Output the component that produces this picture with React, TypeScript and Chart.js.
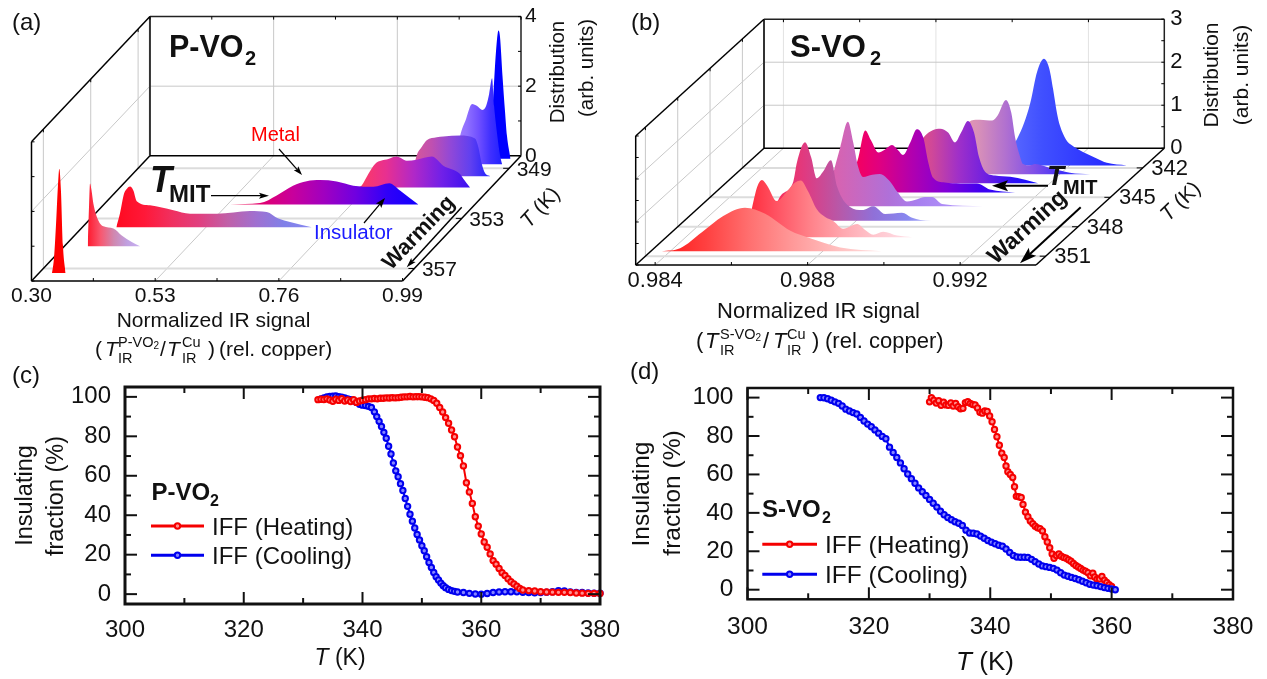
import React, { useEffect, useRef } from "react";
import { Chart, registerables } from "chart.js";

Chart.register(...registerables);

const F = '"Liberation Sans", Arial, sans-serif';
const W = 1267;
const H = 679;

// ---------- panel (a) P-VO2 ----------
const pvoTemps = [357.37, 355.22, 353.71, 351.89, 350.54, 349.63, 348.67, 348.24];
const pvoSignal1 = [0.3242, 0.3279, 0.3316, 0.3353, 0.3378, 0.3409, 0.3446, 0.3497];
const pvoDist1 = [0, 0.43, 1.37, 2.51, 3.0, 2.37, 0.8, 0];
const pvoSignal2 = [0.3433, 0.3458, 0.3476, 0.3504, 0.3538, 0.3631, 0.3724, 0.391, 0.4066, 0.4252, 0.4406];
const pvoDist2 = [0, 1.17, 1.8, 1.6, 1.23, 0.74, 0.57, 0.51, 0.31, 0.12, 0];
const pvoSignal3 = [0.3632, 0.3701, 0.3776, 0.3831, 0.3887, 0.3949, 0.4012, 0.4259, 0.4693, 0.5003, 0.55, 0.6119, 0.643, 0.6646, 0.6863, 0.7267];
const pvoDist3 = [0, 0.4, 0.97, 1.11, 1.17, 1.06, 0.75, 0.63, 0.49, 0.39, 0.39, 0.47, 0.44, 0.25, 0.15, 0];
const pvoSignal4 = [0.5345, 0.5903, 0.6214, 0.6517, 0.6772, 0.7019, 0.733, 0.7639, 0.8011, 0.8308, 0.8507, 0.8675, 0.8848];
const pvoDist4 = [0, 0.04, 0.26, 0.54, 0.67, 0.7, 0.66, 0.54, 0.51, 0.61, 0.4, 0.2, 0];
const pvoSignal5 = [0.7429, 0.7497, 0.762, 0.7745, 0.7992, 0.8148, 0.8334, 0.852, 0.88, 0.9015, 0.9326, 0.9387, 0.9512];
const pvoDist5 = [0, 0.06, 0.39, 0.68, 0.82, 0.89, 0.77, 0.8, 0.89, 0.63, 0.39, 0.25, 0];
const pvoSignal6 = [0.8232, 0.832, 0.8413, 0.8506, 0.8692, 0.8814, 0.9125, 0.9404, 0.9465, 0.9529, 0.959, 0.9683];
const pvoDist6 = [0, 0.6, 0.84, 1.03, 1.12, 1.14, 1.17, 1.08, 0.84, 0.36, 0.09, 0];
const pvoSignal7 = [0.8822, 0.8915, 0.9026, 0.9138, 0.9231, 0.9324, 0.9398, 0.9454, 0.951, 0.9547, 0.9603, 0.9659, 0.9696];
const pvoDist7 = [0, 0.81, 1.3, 1.73, 1.67, 1.56, 1.67, 2.01, 2.47, 1.67, 0.87, 0.24, 0];
const pvoSignal8 = [0.9339, 0.9432, 0.9488, 0.9534, 0.9562, 0.9609, 0.9655, 0.9692, 0.9759];
const pvoDist8 = [0, 1.66, 3.09, 3.69, 3.51, 2.37, 1.37, 0.66, 0];
const pvoSignalTicks = [0.3, 0.53, 0.76, 0.99];
const pvoSignalMinor = [0.415, 0.645, 0.875];
const pvoDistTicks = [0, 2, 4];
const pvoDistMinor = [1, 3];
const pvoTempTicks = [349, 353, 357];

const pvoColors = [
  ["#ff0000", "#ff0000"],
  ["#ff1a2e", "#f85870", "#d088b0", "#c0a0e0", "#c8b0f0"],
  ["#ff0a20", "#ff1838", "#f03060", "#e04080", "#c060a8", "#a070d0", "#8080e8", "#8888f0"],
  ["#f00040", "#e00070", "#c8009c", "#a000c0", "#7000e0", "#3000f8", "#1000ff"],
  ["#ff3a60", "#e83090", "#b028c8", "#7020e8", "#3a10f0"],
  ["#d85898", "#c050b0", "#9048d8", "#6040f0", "#2020ff"],
  ["#a880ff", "#9070ff", "#7050ff", "#4030ff", "#2020ff"],
  ["#0000ff", "#0000ff"],
];

// ---------- panel (b) S-VO2 ----------
const svoTemps = [350.5, 349.07, 347.4, 345.9, 344.5, 343.57, 342.66, 341.75];
const svoSignal1 = [0.98378, 0.98426, 0.98483, 0.98539, 0.98596, 0.98649, 0.98714, 0.98767, 0.98846, 0.98955];
const svoDist1 = [0, 0.07, 0.44, 0.82, 1.01, 0.87, 0.48, 0.3, 0.09, 0];
const svoSignal2 = [0.98543, 0.98564, 0.98574, 0.98588, 0.986, 0.98614, 0.98639, 0.98666, 0.98687, 0.98702, 0.98721, 0.98744, 0.98766, 0.98787, 0.98813, 0.9885, 0.98871, 0.98892, 0.98918, 0.98955, 0.98994];
const svoDist2 = [0, 0.27, 0.68, 1.18, 1.33, 1.2, 0.84, 1.07, 1.27, 1.32, 1.07, 0.65, 0.47, 0.38, 0.2, 0.31, 0.17, 0.06, 0.13, 0.04, 0];
const svoSignal3 = [0.98574, 0.98601, 0.98635, 0.98645, 0.98666, 0.98682, 0.98697, 0.98713, 0.98734, 0.9875, 0.98784, 0.98816, 0.98845, 0.98876, 0.9892, 0.98947, 0.98968, 0.99026];
const svoDist3 = [0, 0.57, 0.91, 1.37, 1.83, 1.48, 0.99, 1.14, 1.41, 0.8, 0.32, 0.25, 0.34, 0.16, 0.19, 0.07, 0.02, 0];
const svoSignal4 = [0.98676, 0.98695, 0.98716, 0.98736, 0.9875, 0.98763, 0.98776, 0.988, 0.9882, 0.98847, 0.98865, 0.98891, 0.98918, 0.98938, 0.98957, 0.98983, 0.99091];
const svoDist4 = [0, 0.68, 1.37, 1.96, 1.48, 0.91, 0.68, 0.73, 0.75, 0.57, 0.34, 0.11, 0.16, 0.21, 0.21, 0.05, 0];
const svoSignal5 = [0.98689, 0.98707, 0.98723, 0.98742, 0.98757, 0.98776, 0.98794, 0.98812, 0.98828, 0.98841, 0.9886, 0.98877, 0.98894, 0.98907, 0.9892, 0.98951, 0.98991, 0.99035, 0.99069, 0.99135];
const svoDist5 = [0, 0.37, 0.78, 1.44, 1.21, 0.93, 1.0, 1.1, 0.98, 0.87, 1.16, 1.47, 1.28, 0.71, 0.34, 0.23, 0.21, 0.21, 0.07, 0];
const svoSignal6 = [0.9882, 0.98846, 0.98873, 0.98912, 0.98933, 0.98951, 0.98967, 0.98985, 0.99001, 0.99014, 0.9903, 0.99056, 0.99096, 0.99135, 0.99169];
const svoDist6 = [0, 0.72, 1.11, 1.27, 1.18, 0.95, 1.18, 1.45, 1.18, 0.61, 0.27, 0.18, 0.15, 0.08, 0];
const svoSignal7 = [0.98913, 0.98939, 0.98955, 0.98968, 0.98991, 0.99023, 0.99038, 0.99059, 0.99073, 0.99083, 0.99094, 0.99104, 0.99122, 0.99135, 0.99175, 0.99227, 0.9928];
const svoDist7 = [0, 0.52, 1.09, 1.25, 1.27, 1.25, 1.38, 1.73, 1.43, 0.86, 0.47, 0.24, 0.21, 0.24, 0.15, 0.04, 0];
const svoSignal8 = [0.99018, 0.99062, 0.99081, 0.99097, 0.99115, 0.99133, 0.99147, 0.99157, 0.99167, 0.99175, 0.99191, 0.99206, 0.99228, 0.99245, 0.9927, 0.99298, 0.9935];
const svoDist8 = [0, 0.61, 0.99, 1.45, 2.18, 2.48, 2.25, 1.77, 1.22, 0.92, 0.6, 0.47, 0.35, 0.27, 0.17, 0.06, 0];
const svoSignalTicks = [0.984, 0.988, 0.992];
const svoSignalMinor = [0.986, 0.99];
const svoDistTicks = [0, 1, 2, 3];
const svoDistMinor = [0.5, 1.5, 2.5];
const svoTempTicks = [342, 345, 348, 351];

const svoColors = [
  ["#ff1818", "#ff4040", "#ff7070", "#ff9a9a", "#ffc0c0", "#ffe0e0"],
  ["#ff2030", "#ff5060", "#ff8088", "#ffa8b0", "#ffc8d0", "#ffe0e8"],
  ["#ff2a50", "#e03a80", "#b858a8", "#9070d8", "#8888f0", "#d0d0ff"],
  ["#e060a8", "#c868c0", "#b070d8", "#a880f0", "#b090f8", "#d0c0ff"],
  ["#ff0050", "#e00080", "#b000b0", "#8000d8", "#4000f0", "#2010ff"],
  ["#f05078", "#d04898", "#a030c8", "#7020e0", "#3010f8", "#1010ff"],
  ["#f0a0a8", "#d890b8", "#b070d0", "#8050e8", "#4030f8", "#4040ff"],
  ["#6070ff", "#4050ff", "#3038ff", "#2020ff"],
];

// ---------- panel (c) ----------
const cHeatT = [332.5, 333, 333.5, 334, 334.5, 335, 335.5, 336, 336.5, 337, 337.5, 338, 338.5, 339, 339.5, 340, 340.5, 341, 341.5, 342, 342.5, 343, 343.5, 344, 344.5, 345, 345.5, 346, 346.5, 347, 347.5, 348, 348.5, 349, 349.5, 350, 350.5, 351, 351.5, 352, 352.5, 353, 353.5, 354, 354.5, 355, 355.5, 356, 356.5, 357, 357.5, 358, 358.5, 359, 359.5, 360, 360.5, 361, 361.5, 362, 362.5, 363, 363.5, 364, 364.5, 365, 365.5, 366, 366.5, 367, 368, 369, 370, 371, 372, 373, 374, 375, 376, 377, 378, 379, 380, 380.4];
const cHeatY = [98.6, 98.8, 98.7, 99.0, 98.4, 97.8, 98.8, 98.2, 99.1, 97.9, 98.4, 97.6, 98.6, 97.2, 97.9, 98.3, 98.6, 99.0, 99.0, 99.2, 99.0, 99.3, 99.3, 99.5, 99.4, 99.6, 99.5, 99.6, 99.8, 100, 100, 100.2, 100, 100.1, 100.1, 100, 99.8, 99.6, 99, 98.2, 96.8, 94.6, 92.3, 89.5, 86.6, 83.2, 79.8, 74.6, 70.2, 65.0, 56.5, 51.8, 46.0, 39.2, 34.5, 30.5, 26.4, 23.8, 20.4, 17.0, 15.2, 13.0, 10.9, 9.5, 7.8, 6.3, 5.2, 4.0, 2.9, 2.1, 1.8, 1.6, 1.2, 1.1, 1.0, 0.9, 0.9, 0.8, 0.6, 0.5, 0.4, 0.4, 0.3, 0.3];
const cCoolT = [333, 333.5, 334, 334.5, 335, 335.5, 336, 336.5, 337, 337.5, 338, 338.5, 339, 339.5, 340, 340.5, 341, 341.5, 342, 342.4, 342.8, 343.2, 343.6, 344, 344.4, 344.8, 345.2, 345.6, 346, 346.4, 346.8, 347.2, 347.6, 348, 348.4, 348.8, 349.2, 349.6, 350, 350.4, 350.8, 351.2, 351.6, 352, 352.4, 352.8, 353.2, 353.6, 354, 354.5, 355, 355.5, 356, 357, 358, 359, 360, 361, 362, 363, 364, 365, 366, 367, 368, 369, 370, 371, 372, 373, 374, 375, 376, 377, 378, 379, 380];
const cCoolY = [99, 99.5, 100, 100.2, 100.3, 100.4, 100.1, 99.8, 99.5, 99, 98.6, 98, 97.2, 96.2, 95.8, 95.6, 95.2, 94.6, 92.4, 90, 87.6, 85, 82, 79, 75, 71, 66.5, 62.5, 59.5, 56, 52.5, 48.5, 44.5, 40.5, 37, 33.5, 30.2, 27.5, 24.5, 22, 19, 16, 13.5, 11, 8.8, 7.2, 5.6, 4.3, 3.3, 2.4, 1.8, 1.4, 1.1, 0.8, 0.4, 0.1, 0, 0.3, 0.8, 1.1, 1.2, 1.2, 1.2, 0.9, 0.8, 0.7, 0.8, 1.0, 1.2, 1.8, 1.6, 1.1, 0.9, 0.8, 0.6, 0.5, 0.5];

// ---------- panel (d) ----------
const dHeatT = [330.0, 330.3, 330.7, 331.1, 331.5, 331.9, 332.3, 332.7, 333.1, 333.5, 333.9, 334.3, 334.7, 335.1, 335.5, 335.9, 336.3, 336.7, 337.1, 337.5, 337.9, 338.3, 338.7, 339.1, 339.5, 339.9, 340.3, 340.7, 341.1, 341.5, 341.9, 342.3, 342.6, 342.9, 343.3, 343.7, 344.0, 344.3, 344.7, 345.1, 345.4, 345.8, 346.2, 346.6, 347, 347.4, 347.8, 348.2, 348.6, 349, 349.4, 349.8, 350.2, 350.5, 350.9, 351.3, 351.7, 352.1, 352.5, 352.9, 353.3, 353.7, 354.1, 354.5, 354.9, 355.3, 355.7, 356.1, 356.5, 356.9, 357.2, 357.6, 358, 358.4, 358.8, 359.2, 359.6, 360];
const dHeatY = [97.8, 100, 98.6, 97.2, 98.4, 96.0, 97.6, 96.2, 96, 97.2, 95.6, 97, 95.2, 94.2, 94.4, 97.4, 97.9, 97, 96.4, 96.2, 94.6, 92.4, 91.9, 93, 92.8, 90.4, 87.4, 83.4, 79.6, 75.2, 71, 68.8, 64.4, 61.4, 60, 58.4, 53.6, 48.6, 48.4, 48.0, 44.4, 40.4, 38, 35.8, 34.4, 33, 32.2, 31.8, 30.6, 27.6, 24.8, 21.8, 18.6, 16.4, 17.8, 18.6, 17.4, 16.8, 16.4, 15.6, 14.8, 13.6, 12.6, 11.8, 11, 10.2, 9.6, 8.8, 7.2, 8.6, 6.6, 5.4, 5.6, 6.9, 5, 3.8, 2.6, 1.7];
const dCoolT = [312.0, 312.6, 313.2, 313.8, 314.4, 315.0, 315.6, 316.2, 316.8, 317.4, 318, 318.6, 319.2, 319.8, 320.4, 321, 321.6, 322.2, 322.8, 323.4, 324, 324.6, 325.2, 325.8, 326.4, 327, 327.6, 328.2, 328.8, 329.4, 330, 330.6, 331.2, 331.8, 332.4, 333, 333.6, 334.2, 334.8, 335.4, 336, 336.6, 337.2, 337.8, 338.4, 339, 339.6, 340.2, 340.8, 341.4, 342, 342.6, 343.2, 343.8, 344.4, 345, 345.6, 346.2, 346.8, 347.4, 348, 348.6, 349.2, 349.8, 350.4, 351, 351.6, 352.2, 352.8, 353.4, 354, 354.6, 355.2, 355.8, 356.4, 357, 357.6, 358.2, 358.8, 359.4, 360, 360.6];
const dCoolY = [100, 99.9, 99.4, 98.6, 97.8, 97, 95.6, 94, 93, 92.2, 91.5, 89.7, 87.8, 86.2, 84.8, 83.2, 81.5, 79.8, 78.6, 74.2, 71.4, 68.8, 66, 63, 60.2, 57.8, 55.4, 53, 51, 49, 47, 45, 43, 40.8, 39, 37.6, 36.4, 35.4, 34.6, 33.4, 31, 29.5, 29.4, 29, 27.9, 26.8, 25.6, 24.7, 23.9, 23.1, 22.6, 21.2, 19.4, 17.8, 17, 16.9, 16.9, 16.8, 15.8, 14.6, 13.4, 12.4, 12, 11.6, 11.1, 10.2, 8.8, 7.6, 7, 6.4, 5.8, 5.2, 4.4, 3.6, 2.8, 2.4, 2.1, 1.6, 1.1, 0.7, 0.4, 0];

const lowerXTicks = [300, 320, 340, 360, 380];
const lowerXMinor = [310, 330, 350, 370];
const lowerYTicks = [0, 20, 40, 60, 80, 100];
const lowerYMinor = [10, 30, 50, 70, 90];

// ---------- helpers ----------
type Seg = { t: string; font: string; dy?: number; dx?: number };

function text(ctx: any, s: string, x: number, y: number, font: string, o: any = {}) {
  ctx.save();
  ctx.font = font;
  ctx.fillStyle = o.color || "#111";
  ctx.textAlign = o.align || "left";
  ctx.textBaseline = o.baseline || "alphabetic";
  ctx.translate(x, y);
  if (o.rot) ctx.rotate((o.rot * Math.PI) / 180);
  ctx.fillText(s, 0, 0);
  ctx.restore();
}

function rich(ctx: any, segs: Seg[], x: number, y: number, rot = 0, color = "#111") {
  ctx.save();
  ctx.translate(x, y);
  ctx.rotate((rot * Math.PI) / 180);
  ctx.fillStyle = color;
  ctx.textBaseline = "alphabetic";
  let total = 0;
  segs.forEach((g) => {
    ctx.font = g.font;
    total += ctx.measureText(g.t).width + (g.dx || 0);
  });
  let cx = -total / 2;
  segs.forEach((g) => {
    ctx.font = g.font;
    ctx.fillText(g.t, cx, g.dy || 0);
    cx += ctx.measureText(g.t).width + (g.dx || 0);
  });
  ctx.restore();
}

function line(ctx: any, x1: number, y1: number, x2: number, y2: number, color = "#000", lw = 1) {
  ctx.save();
  ctx.strokeStyle = color;
  ctx.lineWidth = lw;
  ctx.beginPath();
  ctx.moveTo(x1, y1);
  ctx.lineTo(x2, y2);
  ctx.stroke();
  ctx.restore();
}

function arrow(ctx: any, x1: number, y1: number, x2: number, y2: number, lw: number, len: number, wid: number) {
  const a = Math.atan2(y2 - y1, x2 - x1);
  const bx = x2 - Math.cos(a) * len * 0.8;
  const by = y2 - Math.sin(a) * len * 0.8;
  line(ctx, x1, y1, bx, by, "#000", lw);
  ctx.save();
  ctx.fillStyle = "#000";
  ctx.translate(x2, y2);
  ctx.rotate(a);
  ctx.beginPath();
  ctx.moveTo(0, 0);
  ctx.lineTo(-len, wid / 2);
  ctx.lineTo(-len * 0.8, 0);
  ctx.lineTo(-len, -wid / 2);
  ctx.closePath();
  ctx.fill();
  ctx.restore();
}

function fixedTicks(values: number[]) {
  return (axis: any) => {
    axis.ticks = values.map((value) => ({ value }));
  };
}

// ---------- waterfall ----------
type Waterfall = {
  sMin: number;
  sMax: number;
  zMax: number;
  tFront: number;
  tSpan: number;
  shiftX: number;
  shiftY: number;
  sTicks: number[];
  sGrid: number[];
  sMinor: number[];
  zTicks: number[];
  zMinor: number[];
  tTicks: number[];
  decimals: number;
  padding: any;
  labelPad: number;
  rightPad: number;
  tickSize: number;
  backGridColor: string;
  tempDx: number;
  tempDy: number;
  annotate: (ctx: any) => void;
};

function waterfallConfig(w: Waterfall, temps: number[], signals: number[][], dists: number[][], colors: string[][]) {
  const depth = (T: number) => (w.tFront - T) / w.tSpan;
  const datasets = temps.map((T, i) => {
    const d = depth(T);
    const base = -(1 - d) * w.shiftY;
    const data = signals[i].map((s, k) => ({ x: s + d * w.shiftX, y: dists[i][k] + base }));
    return {
      data,
      pointRadius: 0,
      borderWidth: 0,
      borderColor: "rgba(0,0,0,0)",
      cubicInterpolationMode: "monotone",
      fill: { value: base },
      backgroundColor: (c: any) => {
        const chart = c.chart;
        const sx = chart.scales.x;
        if (!chart.chartArea || !sx) return colors[i][0];
        const g = chart.ctx.createLinearGradient(sx.getPixelForValue(data[0].x), 0, sx.getPixelForValue(data[data.length - 1].x), 0);
        colors[i].forEach((col, k) => g.addColorStop(k / (colors[i].length - 1), col));
        return g;
      },
    };
  });

  const box = {
    id: "box",
    beforeDatasetsDraw(chart: any) {
      const ctx = chart.ctx;
      const P = (s: number, d: number, z: number): [number, number] => [
        chart.scales.x.getPixelForValue(s + d * w.shiftX),
        chart.scales.y.getPixelForValue(z - (1 - d) * w.shiftY),
      ];
      const seg = (a: [number, number], b: [number, number], col: string, lw = 1) => line(ctx, a[0], a[1], b[0], b[1], col, lw);
      const gray = "#c8c8c8";
      w.sGrid.forEach((s) => {
        seg(P(s, 1, 0), P(s, 1, w.zMax), w.backGridColor);
        seg(P(s, 0, 0), P(s, 1, 0), gray);
      });
      w.zTicks.filter((z) => z > 0 && z < w.zMax).forEach((z) => {
        seg(P(w.sMin, 1, z), P(w.sMax, 1, z), gray);
        seg(P(w.sMin, 0, z), P(w.sMin, 1, z), gray);
      });
      w.tTicks.forEach((T) => {
        const d = depth(T);
        seg(P(w.sMin, d, 0), P(w.sMin, d, w.zMax), gray);
        seg(P(w.sMin, d, 0), P(w.sMax, d, 0), "#dcdcdc", 2);
      });
      // frame
      seg(P(w.sMin, 1, 0), P(w.sMin, 1, w.zMax), "#333", 2);
      seg(P(w.sMin, 1, w.zMax), P(w.sMax, 1, w.zMax), "#222", 1.5);
      seg(P(w.sMax, 1, w.zMax), P(w.sMax, 1, 0), "#222", 1.5);
      seg(P(w.sMin, 1, 0), P(w.sMax, 1, 0), "#000", 1.5);
      seg(P(w.sMin, 1, w.zMax), P(w.sMin, 0, w.zMax), "#000", 1.5);
      seg(P(w.sMin, 0, w.zMax), P(w.sMin, 0, 0), "#000", 1.5);
      seg(P(w.sMin, 0, 0), P(w.sMax, 0, 0), "#000", 1.5);
      seg(P(w.sMin, 0, 0), P(w.sMin, 1, 0), "#000", 1.5);
      seg(P(w.sMax, 0, 0), P(w.sMax, 1, 0), "#000", 1.5);
      // small ticks
      [...w.sTicks, ...w.sMinor].forEach((s) => {
        const a = P(s, 0, 0);
        line(ctx, a[0], a[1], a[0], a[1] - 3, "#000", 1);
        const b = P(s, 1, w.zMax);
        line(ctx, b[0], b[1], b[0], b[1] + 3, "#000", 1);
      });
      [...w.zTicks, ...w.zMinor].forEach((z) => {
        const a = P(w.sMax, 1, z);
        line(ctx, a[0], a[1], a[0] - 3, a[1], "#000", 1);
        const b = P(w.sMin, 0, z);
        line(ctx, b[0], b[1], b[0] + 3, b[1], "#000", 1);
      });
      w.tTicks.forEach((T) => {
        const d = depth(T);
        const a = P(w.sMin, d, w.zMax);
        line(ctx, a[0], a[1], a[0], a[1] + 3, "#000", 1);
        const b = P(w.sMax, d, 0);
        line(ctx, b[0], b[1], b[0] - 6, b[1], "#000", 1);
      });
    },
    afterDraw(chart: any) {
      const ctx = chart.ctx;
      w.tTicks.forEach((T) => {
        const d = depth(T);
        const px = chart.scales.x.getPixelForValue(w.sMax + d * w.shiftX);
        const py = chart.scales.y.getPixelForValue(-(1 - d) * w.shiftY);
        text(ctx, String(T), px + w.tempDx, py + w.tempDy, `${w.tickSize}px ${F}`, { align: "center", baseline: "middle" });
      });
      w.annotate(ctx);
    },
  };

  return {
    type: "line",
    data: { datasets },
    plugins: [box],
    options: {
      animation: false,
      responsive: false,
      events: [],
      layout: { padding: w.padding },
      plugins: { legend: { display: false }, tooltip: { enabled: false }, title: { display: false } },
      scales: {
        x: {
          type: "linear",
          min: w.sMin,
          max: w.sMax + w.shiftX,
          afterBuildTicks: fixedTicks(w.sTicks),
          afterFit: (s: any) => {
            s.height = 30;
          },
          grid: { display: false, drawTicks: false },
          border: { display: false },
          ticks: { autoSkip: false, maxRotation: 0, color: "#111", padding: w.labelPad, font: { family: F, size: w.tickSize }, callback: (v: any) => Number(v).toFixed(w.decimals) },
        },
        y: {
          type: "linear",
          position: "right",
          min: -w.shiftY,
          max: w.zMax,
          afterBuildTicks: fixedTicks(w.zTicks),
          afterFit: (s: any) => {
            s.width = 30;
          },
          grid: { display: false, drawTicks: false },
          border: { display: false },
          ticks: { autoSkip: false, color: "#111", padding: w.rightPad, font: { family: F, size: w.tickSize }, callback: (v: any) => String(v) },
        },
      },
    },
  };
}

function irRatio(ctx: any, base: number, xs: number[], sup: string, size: number) {
  const main = `${size}px ${F}`;
  const it = `italic ${size}px ${F}`;
  const small = `14.5px ${F}`;
  text(ctx, "(", xs[0], base, main);
  text(ctx, "T", xs[1], base, it);
  text(ctx, sup, xs[2], base - 9.5, small);
  ctx.save();
  ctx.font = small;
  const sw = ctx.measureText(sup).width;
  ctx.restore();
  text(ctx, "2", xs[2] + sw, base - 7, `10px ${F}`);
  text(ctx, "IR", xs[2], base + 7, small);
  text(ctx, "/", xs[3], base, main);
  text(ctx, "T", xs[4], base, it);
  text(ctx, "Cu", xs[5], base - 9.5, small);
  text(ctx, "IR", xs[5], base + 7, small);
  text(ctx, ")", xs[6], base, main);
  text(ctx, "(rel. copper)", xs[7], base, main);
}

const panelA: Waterfall = {
  sMin: 0.3,
  sMax: 0.99,
  zMax: 4,
  tFront: 358,
  tSpan: 10,
  shiftX: 0.22026,
  shiftY: 3.6,
  sTicks: pvoSignalTicks,
  sGrid: pvoSignalTicks.filter((s) => s > 0.3 && s < 0.99),
  sMinor: pvoSignalMinor,
  zTicks: pvoDistTicks,
  zMinor: pvoDistMinor,
  tTicks: pvoTempTicks,
  decimals: 2,
  padding: { left: 31.5, right: W - 521 - 30, top: 15, bottom: H - 281 - 30 },
  labelPad: 3,
  rightPad: 4,
  tickSize: 21,
  backGridColor: "#c8c8c8",
  tempDx: 25,
  tempDy: 2,
  annotate(ctx) {
    text(ctx, "(a)", 12, 30, `24px ${F}`);
    text(ctx, "P-VO", 169, 57, `bold 30.5px ${F}`);
    text(ctx, "2", 245, 65, `bold 20px ${F}`);
    text(ctx, "Metal", 251, 141, `20px ${F}`, { color: "#ff0000" });
    arrow(ctx, 279, 149, 302, 175, 1.2, 9, 6);
    text(ctx, "T", 150, 192, `italic bold 36px ${F}`);
    text(ctx, "MIT", 169, 202, `bold 24px ${F}`);
    arrow(ctx, 211, 195.7, 269, 195.7, 1.2, 10, 6);
    text(ctx, "Insulator", 314, 239, `20.5px ${F}`, { color: "#1a1aff" });
    arrow(ctx, 364, 223, 385, 198, 1.2, 10, 7);
    text(ctx, "Warming", 419, 233, `bold 22px ${F}`, { align: "center", baseline: "middle", rot: -46 });
    arrow(ctx, 461.7, 207.3, 406.7, 267.3, 1.5, 10, 6);
    rich(ctx, [{ t: "T", font: `italic 21px ${F}` }, { t: " (K)", font: `21px ${F}` }], 545, 212, -47);
    text(ctx, "Distribution", 558, 72, `20.5px ${F}`, { align: "center", baseline: "middle", rot: -90 });
    text(ctx, "(arb. units)", 587, 68, `20.5px ${F}`, { align: "center", baseline: "middle", rot: -90 });
    text(ctx, "Normalized IR signal", 213.5, 327, `21px ${F}`, { align: "center" });
    irRatio(ctx, 356, [95, 105, 118, 160, 167, 182, 208, 219], "P-VO", 21);
  },
};

const panelB: Waterfall = {
  sMin: 0.98349,
  sMax: 0.99399,
  zMax: 3,
  tFront: 351.9,
  tSpan: 11.905,
  shiftX: 0.003365,
  shiftY: 2.715,
  sTicks: svoSignalTicks,
  sGrid: svoSignalTicks,
  sMinor: svoSignalMinor,
  zTicks: svoDistTicks,
  zMinor: svoDistMinor,
  tTicks: svoTempTicks,
  decimals: 3,
  padding: { left: 635.7, right: W - 1164.3 - 30, top: 14.5, bottom: H - 265 - 30 },
  labelPad: 3,
  rightPad: 6,
  tickSize: 22,
  backGridColor: "#e2e2e2",
  tempDx: 27,
  tempDy: 1,
  annotate(ctx) {
    text(ctx, "(b)", 631, 30, `24px ${F}`);
    text(ctx, "S-VO", 790, 57, `bold 31px ${F}`);
    text(ctx, "2", 870, 65, `bold 20px ${F}`);
    text(ctx, "T", 1047, 185, `italic bold 28px ${F}`);
    text(ctx, "MIT", 1063, 194, `bold 20px ${F}`);
    arrow(ctx, 1048, 185.7, 992, 185.7, 2, 16, 11);
    text(ctx, "Warming", 1027.5, 227.5, `bold 23px ${F}`, { align: "center", baseline: "middle", rot: -42.5 });
    arrow(ctx, 1080.7, 207.3, 1020, 263.3, 2, 17, 11);
    rich(ctx, [{ t: "T", font: `italic 21px ${F}` }, { t: " (K)", font: `21px ${F}` }], 1185, 206, -44);
    text(ctx, "Distribution", 1212, 75, `21px ${F}`, { align: "center", baseline: "middle", rot: -90 });
    text(ctx, "(arb. units)", 1242, 75, `21px ${F}`, { align: "center", baseline: "middle", rot: -90 });
    text(ctx, "Normalized IR signal", 818.5, 318, `22px ${F}`, { align: "center" });
    irRatio(ctx, 348, [696, 705, 720, 763, 773, 787, 812, 825], "S-VO", 22);
  },
};

// ---------- lower panels ----------
function zip(xs: number[], ys: number[]) {
  return xs.map((x, i) => ({ x, y: ys[i] }));
}

function curve(data: any[], color: string, fill: string) {
  return {
    data,
    borderColor: color,
    borderWidth: 2,
    tension: 0,
    pointRadius: 2.7,
    pointBorderWidth: 2,
    pointBorderColor: color,
    pointBackgroundColor: fill,
    fill: false,
  };
}

function lowerConfig(datasets: any[], o: any) {
  const frame = {
    id: "frame",
    afterDatasetsDraw(chart: any) {
      const ctx = chart.ctx;
      const { left, right, top, bottom } = chart.chartArea;
      const sx = chart.scales.x;
      const sy = chart.scales.y;
      const tick = (major: boolean) => (major ? 12 : 6);
      const drawX = (v: number, major: boolean) => {
        const p = sx.getPixelForValue(v);
        line(ctx, p, bottom, p, bottom - tick(major), "#111", 2);
        line(ctx, p, top, p, top + tick(major), "#111", 2);
      };
      const drawY = (v: number, major: boolean) => {
        const p = sy.getPixelForValue(v);
        line(ctx, left, p, left + tick(major), p, "#111", 2);
        line(ctx, right, p, right - tick(major), p, "#111", 2);
      };
      lowerXTicks.forEach((v) => drawX(v, true));
      lowerXMinor.forEach((v) => drawX(v, false));
      lowerYTicks.forEach((v) => drawY(v, true));
      lowerYMinor.forEach((v) => drawY(v, false));
      ctx.save();
      ctx.strokeStyle = "#111";
      ctx.lineWidth = o.frameWidth;
      ctx.strokeRect(left, top, right - left, bottom - top);
      ctx.restore();
    },
    afterDraw(chart: any) {
      o.annotate(chart.ctx);
    },
  };
  return {
    type: "line",
    data: { datasets },
    plugins: [frame],
    options: {
      animation: false,
      responsive: false,
      events: [],
      clip: false,
      layout: { padding: o.padding },
      plugins: { legend: { display: false }, tooltip: { enabled: false }, title: { display: false } },
      scales: {
        x: {
          type: "linear",
          min: 300,
          max: 380,
          afterBuildTicks: fixedTicks(lowerXTicks),
          afterFit: (s: any) => {
            s.height = 50;
          },
          grid: { display: false, drawTicks: false },
          border: { display: false },
          ticks: { autoSkip: false, maxRotation: 0, color: "#111", padding: o.xPad, font: { family: F, size: o.tickSize } },
        },
        y: {
          type: "linear",
          min: -5,
          max: 105,
          afterBuildTicks: fixedTicks(lowerYTicks),
          afterFit: (s: any) => {
            s.width = 60;
          },
          grid: { display: false, drawTicks: false },
          border: { display: false },
          ticks: { autoSkip: false, color: "#111", padding: 14, font: { family: F, size: o.tickSize } },
        },
      },
    },
  };
}

function legendRow(ctx: any, x1: number, x2: number, y: number, color: string, fill: string, label: string, tx: number, size: number) {
  line(ctx, x1, y, x2, y, color, 3);
  ctx.save();
  ctx.beginPath();
  ctx.arc((x1 + x2) / 2, y, 2.7, 0, Math.PI * 2);
  ctx.fillStyle = fill;
  ctx.strokeStyle = color;
  ctx.lineWidth = 2;
  ctx.fill();
  ctx.stroke();
  ctx.restore();
  text(ctx, label, tx, y + size * 0.36, `${size}px ${F}`);
}

const RED = "#f50000";
const BLUE = "#0000ee";
const RED_FILL = "#ff9090";
const BLUE_FILL = "#8585ff";

const panelCConfig = () =>
  lowerConfig([curve(zip(cHeatT, cHeatY), RED, RED_FILL), curve(zip(cCoolT, cCoolY), BLUE, BLUE_FILL)], {
    padding: { left: 65, right: W - 600, top: 387, bottom: H - 604 - 50 },
    frameWidth: 3,
    xPad: 12,
    tickSize: 24,
    annotate(ctx: any) {
      text(ctx, "(c)", 12, 383, `24px ${F}`);
      text(ctx, "Insulating", 26, 495.5, `23.5px ${F}`, { align: "center", baseline: "middle", rot: -90 });
      text(ctx, "fraction (%)", 57, 496, `23.5px ${F}`, { align: "center", baseline: "middle", rot: -90 });
      text(ctx, "P-VO", 151.5, 500, `bold 24px ${F}`);
      text(ctx, "2", 210, 506, `bold 16px ${F}`);
      legendRow(ctx, 151, 204, 526, RED, RED_FILL, "IFF (Heating)", 212, 24);
      legendRow(ctx, 151, 204, 555.3, BLUE, BLUE_FILL, "IFF (Cooling)", 212, 24);
      rich(ctx, [{ t: "T", font: `italic 23px ${F}` }, { t: " (K)", font: `23px ${F}` }], 340, 665);
    },
  });

const panelDConfig = () =>
  lowerConfig([curve(zip(dCoolT, dCoolY), BLUE, BLUE_FILL), curve(zip(dHeatT, dHeatY), RED, RED_FILL)], {
    padding: { left: 687.5, right: W - 1233, top: 388, bottom: H - 599.3 - 50 },
    frameWidth: 2.5,
    xPad: 13,
    tickSize: 24.5,
    annotate(ctx: any) {
      text(ctx, "(d)", 630, 379, `24px ${F}`);
      text(ctx, "Insulating", 642.5, 494, `24.5px ${F}`, { align: "center", baseline: "middle", rot: -90 });
      text(ctx, "fraction (%)", 673, 493, `24.5px ${F}`, { align: "center", baseline: "middle", rot: -90 });
      text(ctx, "S-VO", 762, 516.7, `bold 24px ${F}`);
      text(ctx, "2", 822, 523, `bold 16px ${F}`);
      legendRow(ctx, 762.3, 817, 544.3, RED, RED_FILL, "IFF (Heating)", 825, 24.5);
      legendRow(ctx, 762.3, 817, 574.3, BLUE, BLUE_FILL, "IFF (Cooling)", 825, 24.5);
      rich(ctx, [{ t: "T", font: `italic 26px ${F}` }, { t: " (K)", font: `26px ${F}` }], 985, 670);
    },
  });

const panelAConfig = () =>
  waterfallConfig(
    panelA,
    pvoTemps,
    [pvoSignal1, pvoSignal2, pvoSignal3, pvoSignal4, pvoSignal5, pvoSignal6, pvoSignal7, pvoSignal8],
    [pvoDist1, pvoDist2, pvoDist3, pvoDist4, pvoDist5, pvoDist6, pvoDist7, pvoDist8],
    pvoColors
  );

const panelBConfig = () =>
  waterfallConfig(
    panelB,
    svoTemps,
    [svoSignal1, svoSignal2, svoSignal3, svoSignal4, svoSignal5, svoSignal6, svoSignal7, svoSignal8],
    [svoDist1, svoDist2, svoDist3, svoDist4, svoDist5, svoDist6, svoDist7, svoDist8],
    svoColors
  );

function Panel({ make }: { make: () => any }) {
  const ref = useRef<HTMLCanvasElement>(null);
  useEffect(() => {
    const chart = new Chart(ref.current as any, make());
    return () => chart.destroy();
  }, [make]);
  return <canvas ref={ref} width={W} height={H} style={{ position: "absolute", left: 0, top: 0, display: "block" }} />;
}

export default function App() {
  return (
    <div style={{ position: "absolute", left: 0, top: 0, width: W, height: H, overflow: "hidden", background: "#fff" }}>
      <Panel make={panelAConfig} />
      <Panel make={panelBConfig} />
      <Panel make={panelCConfig} />
      <Panel make={panelDConfig} />
    </div>
  );
}
